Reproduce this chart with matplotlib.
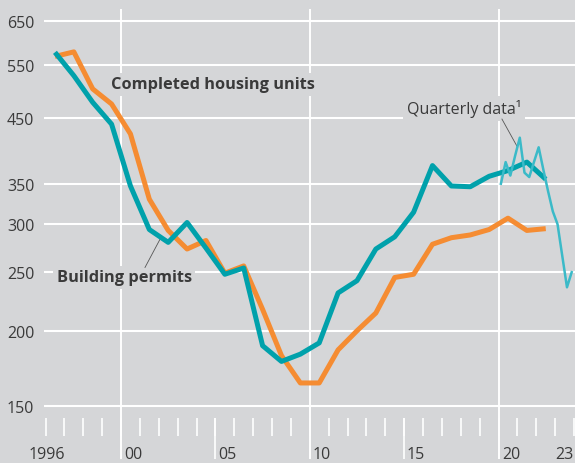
import numpy as np
import matplotlib
matplotlib.use("Agg")
import matplotlib.pyplot as plt
from matplotlib.transforms import blended_transform_factory

# ---------------- data ----------------
years = list(range(1996, 2023))
completed = [577, 528, 477, 439, 347, 294, 280, 302, 274, 248,
             254, 189, 178, 183, 191, 231, 242, 273, 286, 314,
             375, 347, 346, 360, 368, 380, 356]
permits = [568, 578, 502, 474, 423, 330, 293, 273, 282, 249,
           256, 217, 182, 164, 164, 186, 200, 214, 245, 248,
           278, 285, 288, 294, 307, 293, 295]
q_years = [2020] * 4 + [2021] * 4 + [2022] * 4 + [2023] * 4
q_nums = [1, 2, 3, 4] * 4
quarterly = [350, 380, 361, 389, 417, 365, 359, 380,
             402, 369, 340, 315, 300, 266, 236, 250]

y_ticks = [150, 200, 250, 300, 350, 450, 550, 650]
x_label_years = [1996, 2000, 2005, 2010, 2015, 2020, 2023]
x_labels = ["1996", "00", "05", "10", "15", "20", "23"]

# ---------------- style ----------------
BG = "#d5d6d8"
TEAL = "#00a1ab"
ORANGE = "#f58c32"
QCOL = "#3bbac8"
TXT = "#3a3a3a"
plt.rcParams["font.family"] = ["Open Sans", "DejaVu Sans"]
FS = 11.5

fig = plt.figure(figsize=(5.75, 4.64), dpi=100, facecolor=BG)
ax = fig.add_axes([44 / 575, 4 / 464, 531 / 575, 450 / 464])
ax.set_facecolor(BG)
for s in ax.spines.values():
    s.set_visible(False)

ax.set_yscale("log")
ax.set_ylim(122.8, 680.4)
ax.set_xlim(1995.92, 2024.05)

# y grid / labels
ax.set_yticks(y_ticks)
ax.set_yticklabels([str(v) for v in y_ticks])
ax.yaxis.set_minor_locator(matplotlib.ticker.NullLocator())
ax.tick_params(axis="y", length=0, pad=7, labelsize=FS, labelcolor=TXT)
ax.yaxis.grid(True, color="white", lw=1.5, zorder=1)
ax.set_axisbelow(True)

# x axis: custom ticks inside axes
ax.set_xticks([])
xt = ax.get_xaxis_transform()
tick_years = list(range(1996, 2025))
ax.vlines(tick_years, 0.0504, 0.0904, transform=xt, color="white", lw=1.2, zorder=1)
ax.vlines([2005, 2015], 0.0, 0.0904, transform=xt, color="white", lw=1.2, zorder=1)
ax.vlines([2000, 2010, 2020], 0.0, 1.0, transform=xt, color="white", lw=1.4, zorder=1)

tr = blended_transform_factory(ax.transData, fig.transFigure)
offsets = [0.05, 0.16, 0.14, 0.15, 0.14, 0.17, 0.0]
for yr, lab, off in zip(x_label_years, x_labels, offsets):
    ha = "center" if lab == "1996" else "left"
    ax.text(yr + off, 4.5 / 464, lab, transform=tr, ha=ha, va="baseline",
            fontsize=FS, color=TXT, clip_on=False)

# ---------------- series ----------------
xa = np.array(years) + 0.5
xq = np.array(q_years) + (np.array(q_nums) - 0.5) / 4
ax.plot(xa, permits, color=ORANGE, lw=3.6, zorder=3, solid_capstyle="butt")
ax.plot(xa, completed, color=TEAL, lw=3.6, zorder=4, solid_capstyle="butt")
ax.plot(xq, quarterly, color=QCOL, lw=1.8, zorder=5)

# ---------------- annotations ----------------
box = dict(facecolor=BG, edgecolor="none", pad=2.5)
ax.text(1999.47, 511, "Completed housing units", fontsize=11.8, fontweight="bold",
        color=TXT, ha="left", va="center", bbox=box, zorder=2)
ax.text(1996.59, 245, "Building permits", fontsize=11.8, fontweight="bold",
        color=TXT, ha="left", va="center", bbox=box, zorder=2)
ax.text(2015.14, 466, "Quarterly data\u00b9", fontsize=FS,
        color=TXT, ha="left", va="center", bbox=box, zorder=2)
ax.plot([2001.27, 2002.07], [254.5, 283.5], color="#555555", lw=0.6, zorder=2)
ax.plot([2020.18, 2020.98], [447.6, 403.5], color="#555555", lw=0.6, zorder=2)

fig.savefig("out.png", dpi=100, facecolor=BG)
